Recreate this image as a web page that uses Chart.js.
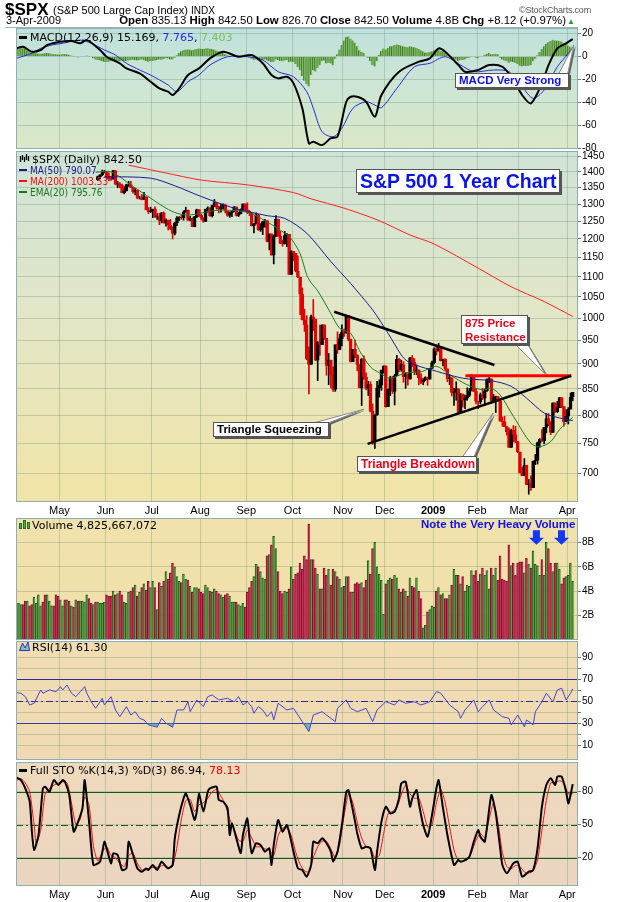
<!DOCTYPE html>
<html><head><meta charset="utf-8">
<script src="https://cdn.jsdelivr.net/npm/chart.js"></script>
<style>
html,body{margin:0;padding:0;background:#fff;width:620px;height:902px;overflow:hidden;position:relative;font-family:"Liberation Sans",Arial,sans-serif;}
canvas{position:absolute;left:0;}
.t{position:absolute;white-space:nowrap;line-height:13px;}
.lg{font-family:"DejaVu Sans",Verdana,sans-serif;font-size:11px;color:#000;}
.lgs{font-family:"DejaVu Sans Condensed","DejaVu Sans",sans-serif;font-size:10px;}
.mk{display:inline-block;width:8px;height:2px;vertical-align:middle;margin:0 3px 2px 1px;}
.box{position:absolute;background:#fff;border:1px solid #555;box-shadow:2px 2px 0 #555;font-weight:bold;font-family:"Liberation Sans",Arial,sans-serif;white-space:nowrap;box-sizing:border-box;}
</style></head><body>
<div id="charts"></div>

<!-- header -->
<div class="t" style="left:5px;top:1px;font-weight:bold;font-size:17px;line-height:18px;">$SPX</div>
<div class="t" style="left:53px;top:4px;font-size:11px;">(S&amp;P 500 Large Cap Index) <span style="font-size:10px">INDX</span></div>
<div class="t" style="left:519px;top:4px;font-size:9px;color:#555;letter-spacing:-0.2px;">&copy;StockCharts.com</div>
<div class="t" style="left:6px;top:14px;font-size:11px;">3-Apr-2009</div>
<div class="t" style="right:54px;top:14px;font-size:11.4px;"><b>Open</b> 835.13 <b>High</b> 842.50 <b>Low</b> 826.70 <b>Close</b> 842.50 <b>Volume</b> 4.8B <b>Chg</b> +8.12 (+0.97%)</div>
<div class="t" style="left:567px;top:15px;font-size:8px;color:#2a9a2a;">&#9650;</div>
<div style="position:absolute;left:5px;top:27px;width:573px;height:1px;background:#9ab4b8;"></div>

<!-- MACD legend -->
<div class="t lg" style="left:18px;top:31px;"><span class="mk" style="background:#000;height:3px"></span>MACD(12,26,9) 15.169, <span style="color:#2a2ad0">7.765</span>, <span style="color:#78c058">7.403</span></div>
<div class="box" style="left:455px;top:73px;width:114px;height:15px;color:#1010e8;font-size:11.5px;line-height:13px;padding-left:3px;">MACD Very Strong</div>

<!-- price legend -->
<div class="t lg" style="left:19px;top:153px;"><svg width="11" height="9" style="margin-right:2px"><path d="M1.5 2v6M3.5 1v5M5.5 3v5M7.5 0v6M9.5 2v5" stroke="#000" stroke-width="1.3"/></svg>$SPX (Daily) 842.50</div>
<div class="t lg lgs" style="left:18px;top:164px;color:#1a1a8a"><span class="mk" style="background:#1a1a8a"></span>MA(50) 790.07</div>
<div class="t lg lgs" style="left:18px;top:174.5px;color:#ee1111"><span class="mk" style="background:#ee1111"></span>MA(200) 1003.53</div>
<div class="t lg lgs" style="left:18px;top:186px;color:#187818"><span class="mk" style="background:#187818"></span>EMA(20) 795.76</div>

<div class="box" style="left:356px;top:169px;width:204px;height:24px;color:#0a14e6;font-size:19.5px;line-height:22px;padding-left:3px;">S&amp;P 500 1 Year Chart</div>
<div class="box" style="left:461px;top:315px;width:67px;height:29px;color:#e8001a;font-size:11.5px;line-height:13.5px;padding:1px 0 0 3px;">875 Price<br>Resistance</div>
<div class="box" style="left:213px;top:422px;width:116px;height:15px;color:#000;font-size:11.5px;line-height:13px;padding-left:3px;">Triangle Squeezing</div>
<div class="box" style="left:357px;top:456px;width:120px;height:16px;color:#e8001a;font-size:12px;line-height:14px;padding-left:3px;">Triangle Breakdown</div>

<!-- volume legend -->
<div class="t lg" style="left:19px;top:518.5px;"><svg width="11" height="10" style="margin-right:2px"><rect x="0.5" y="4.5" width="2" height="5" fill="#5aa548" stroke="#2c6a24"/><rect x="4.5" y="1.5" width="2" height="8" fill="#5aa548" stroke="#2c6a24"/><rect x="8.5" y="3.5" width="2" height="6" fill="#5aa548" stroke="#2c6a24"/></svg>Volume 4,825,667,072</div>
<div class="t" style="left:421px;top:518px;font-weight:bold;font-size:11.5px;color:#1010e8;">Note the Very Heavy Volume</div>

<!-- RSI legend -->
<div class="t lg" style="left:19px;top:641px;"><svg width="11" height="10" style="margin-right:2px"><path d="M0.5 9.5 L3.5 2 L6 7 L9 1 L10.5 9.5 Z" fill="#7ec0c0" stroke="#3030c0"/></svg>RSI(14) 61.30</div>

<!-- STO legend -->
<div class="t lg" style="left:18px;top:764px;"><span class="mk" style="background:#000;height:3px"></span>Full STO %K(14,3) %D(3) 86.94, <span style="color:#e00000">78.13</span></div>

<script>
// ---------------- categories / ticks ----------------
const monthIdx    = [20,41,62,84,105,126,149,168,190,210,229,251];   // first trading day of each month (day index)
const monthLabels = ['May','Jun','Jul','Aug','Sep','Oct','Nov','Dec','2009','Feb','Mar','Apr'];
const priceTicks  = [700,750,800,850,900,950,1000,1050,1100,1150,1200,1250,1300,1350,1400,1450];
const macdTicks   = [-80,-60,-40,-20,0,20];
const volTicks    = [2,4,6,8];
const rsiGrid     = [10,20,30,40,50,60,70,80,90];
const rsiLabels   = [10,30,50,70,90];
const stoTicks    = [20,50,80];
const rsiLevels   = [70,50,30];
const stoLevels   = [80,50,20];

// ---------------- daily price data (day index 0 = 3-Apr-2008) ----------------
const prevClose = 1368;
const closes = [
1369,1370,1373,1366,1354,1361,1333,1328,1334,1365,
1366,1390,1388,1376,1380,1389,1398,1396,1391,1386,
1409,1414,1407,1418,1393,1398,1388,1404,1403,1409,
1424,1425,1427,1413,1391,1394,1376,1385,1391,1398,
1400,1386,1378,1377,1404,1361,1362,1358,1335,1340,
1360,1360,1351,1338,1343,1318,1318,1314,1322,1283,
1278,1280,1285,1262,1263,1252,1274,1245,1253,1239,
1228,1215,1245,1260,1261,1260,1277,1282,1253,1258,
1234,1263,1284,1267,1260,1249,1285,1289,1266,1296,
1305,1290,1286,1293,1298,1279,1267,1275,1278,1292,
1267,1272,1282,1301,1283,1278,1275,1237,1242,1268,
1225,1232,1249,1252,1193,1214,1156,1207,1255,1207,
1188,1186,1209,1213,1106,1166,1161,1114,1099,1057,
996,985,910,899,1003,998,908,946,941,985,
955,897,908,877,849,941,930,954,969,966,
1006,953,905,931,919,899,852,911,873,851,
859,807,752,800,852,857,888,896,816,849,
871,845,876,910,889,899,874,880,869,913,
904,885,888,872,863,868,873,869,891,903,
932,927,935,907,910,890,870,872,843,844,
850,805,840,828,832,837,846,874,845,826,
825,839,832,846,869,870,827,834,835,827,
789,788,779,770,743,773,765,753,735,701,
696,713,682,683,677,720,721,751,757,754,
778,794,784,769,823,806,814,833,816,788,
798,811,834,843];
const firstCandle = 37; // earlier candles sit under the legend
const opens = [
1375,1385,1391,1398,
1400,1386,1378,1377,1404,1361,1362,1358,1335,1340,
1360,1360,1351,1338,1343,1318,1318,1314,1322,1283,
1278,1280,1285,1262,1263,1252,1274,1245,1253,1239,
1228,1215,1245,1260,1261,1260,1277,1282,1253,1258,
1234,1263,1284,1267,1260,1249,1285,1289,1266,1296,
1305,1290,1286,1293,1298,1279,1267,1275,1278,1292,
1267,1272,1282,1301,1283,1278,1275,1237,1242,1268,
1225,1232,1249,1252,1193,1214,1156,1207,1255,1207,
1188,1186,1209,1213,1106,1166,1161,1114,1099,1057,
996,985,910,899,1003,998,908,946,941,985,
955,897,908,877,849,941,930,954,969,966,
1006,953,905,931,919,899,852,911,873,851,
859,807,752,800,852,857,888,896,816,849,
871,845,876,910,889,899,874,880,869,913,
904,885,888,872,863,868,873,869,891,903,
932,927,935,907,910,890,870,872,843,844,
850,805,840,828,832,837,846,874,845,826,
825,839,832,846,869,870,827,834,835,827,
789,788,779,770,743,773,765,753,735,701,
696,713,682,683,677,720,721,751,757,754,
778,794,784,769,823,806,814,833,816,788,
798,811,835];
const highs = [
1387,1391,1406,1405,
1400,1397,1386,1405,1404,1370,1366,1361,1353,1361,
1370,1370,1351,1348,1343,1324,1329,1336,1322,1290,
1291,1285,1292,1272,1273,1275,1277,1257,1253,1255,
1234,1246,1263,1263,1267,1280,1291,1282,1264,1260,
1264,1285,1284,1270,1260,1285,1292,1289,1297,1314,
1305,1294,1300,1301,1300,1280,1277,1280,1293,1292,
1276,1286,1301,1301,1304,1281,1275,1244,1274,1270,
1243,1250,1255,1252,1214,1214,1211,1266,1256,1221,
1197,1221,1215,1213,1168,1166,1161,1154,1099,1072,
1021,1006,936,1007,1044,998,948,984,985,985,
955,922,908,894,940,969,964,985,975,1007,
1006,953,931,951,919,899,911,917,882,865,
864,821,801,865,868,887,896,896,850,875,
875,879,918,912,908,905,882,880,914,918,
911,898,888,880,870,874,873,891,906,934,
937,944,935,910,911,890,878,872,851,864,
850,841,840,838,852,851,878,874,851,826,
842,851,850,870,877,870,839,836,835,827,
797,798,780,777,775,781,780,753,735,710,
724,713,690,696,720,731,752,758,774,778,
803,803,788,823,823,826,833,833,816,810,
814,842,843];
const lows = [
1373,1378,1388,1397,
1377,1371,1373,1377,1359,1350,1350,1334,1331,1340,
1354,1350,1333,1328,1316,1315,1313,1314,1283,1272,
1275,1260,1261,1255,1240,1245,1244,1236,1225,1226,
1200,1211,1237,1252,1255,1253,1276,1252,1251,1234,
1234,1260,1264,1254,1247,1249,1276,1264,1262,1293,
1285,1274,1276,1285,1274,1264,1261,1263,1278,1265,
1263,1271,1282,1280,1272,1266,1236,1217,1242,1224,
1221,1212,1233,1192,1170,1156,1133,1207,1207,1187,
1180,1186,1179,1106,1106,1141,1112,1098,1008,996,
970,909,840,899,972,907,866,918,941,952,
877,858,852,845,845,922,930,938,959,966,
949,904,905,913,886,852,818,869,848,837,
806,748,741,800,834,847,881,815,816,837,
841,819,876,884,885,863,851,857,869,895,
878,878,858,860,858,866,857,869,891,900,
919,927,906,896,887,864,858,836,818,828,
804,804,815,812,828,835,846,845,821,812,
821,829,818,845,862,822,823,805,826,789,
780,779,764,743,743,752,751,734,700,696,
696,682,667,673,677,714,715,743,753,749,
768,781,765,769,805,805,814,814,780,788,
784,811,827];

// moving averages [day index, value]
const ma200 = [[51,1422],[67,1398],[84,1374],[105,1359],[126,1335],[134,1316],[149,1288],[164,1254],[179,1211],[190,1186],[210,1122],[225,1075],[240,1039],[253,1004]];
const ma50  = [[40,1385],[61,1380],[72,1356],[84,1323],[99,1288],[114,1266],[122,1258],[132,1216],[143,1139],[152,1083],[162,1019],[169,966],[175,919],[178,905],[184,894],[188,889],[203,871],[216,866],[225,855],[232,832],[240,804],[247,795],[253,790]];
const ema20 = [[36,1399],[43,1400],[53,1354],[61,1318],[68,1288],[73,1273],[79,1268],[90,1281],[99,1281],[106,1274],[114,1248],[122,1216],[125,1200],[129,1160],[132,1105],[134,1085],[137,1065],[143,1011],[147,977],[152,966],[156,928],[161,894],[165,882],[170,871],[177,882],[184,884],[191,895],[197,878],[205,858],[212,848],[216,851],[220,838],[226,798],[234,750],[238,744],[243,753],[247,774],[253,796]];

// annotation lines [day index, price]
const triUpper = [[144.5,1015],[217.4,898]];
const triLower = [[159.7,749],[252.3,876]];
const resistance = [[204.2,876],[252.4,876]];

// ---------------- volume (billions) ----------------
const volume = [
3.0,3.0,2.9,2.9,3.2,3.2,2.8,2.9,3.5,3.0,
3.7,2.8,3.1,3.7,3.7,3.2,2.8,2.8,3.7,3.6,
3.3,2.8,3.3,3.3,3.2,2.8,2.7,3.3,3.2,3.2,
3.2,3.1,3.7,3.4,3.0,2.9,3.1,3.1,3.0,3.0,
3.1,3.7,3.6,3.6,4.0,3.7,3.8,4.0,3.7,3.1,
3.0,3.9,4.0,4.3,4.5,3.6,3.9,4.3,4.6,4.1,
4.8,4.3,4.8,4.3,2.5,4.7,4.4,4.8,5.6,5.0,
5.5,6.3,6.0,5.2,4.8,4.7,5.4,5.0,4.9,4.4,
3.9,4.3,4.3,4.2,3.9,3.8,4.5,4.3,4.0,3.9,
4.2,4.0,3.8,3.7,3.5,3.7,3.8,3.6,3.1,3.1,
3.1,2.9,2.8,3.0,2.7,3.9,4.3,4.8,5.2,6.2,
6.0,5.6,5.1,5.0,6.9,7.0,7.8,8.5,7.5,5.6,
4.0,3.8,4.0,3.9,4.2,6.0,5.0,5.4,5.5,6.3,
5.8,6.9,6.6,9.5,6.6,6.6,5.9,5.4,4.2,4.2,
5.9,5.3,5.8,4.5,5.8,5.6,5.2,5.0,4.3,4.4,
5.2,5.2,3.9,3.9,4.6,4.7,4.6,4.7,4.3,4.9,
6.5,5.4,7.5,8.0,6.0,5.4,4.9,2.1,4.6,4.9,
5.1,5.0,5.3,5.1,4.2,3.9,4.2,4.0,3.6,5.1,
4.4,4.3,5.1,4.0,3.4,1.0,1.2,2.3,2.5,2.8,
2.7,4.0,4.3,3.7,3.8,3.4,3.4,3.7,4.5,5.8,
5.3,5.3,4.6,5.2,4.0,4.5,4.4,5.7,5.3,5.7,
4.8,5.4,5.9,5.3,5.7,4.2,5.9,5.3,5.9,4.9,
6.9,5.0,4.9,4.8,7.8,6.1,6.3,5.3,6.3,6.4,
6.4,5.5,6.7,6.2,5.9,7.3,6.2,6.1,5.3,6.6,
5.3,8.0,7.5,6.3,5.6,6.3,6.3,5.8,4.6,5.1,
5.2,5.3,6.3,4.8];
const volArrows = [[236.5,9.0,7.8],[247.9,9.0,7.8]]; // [day, top, tip] in billions

// ---------------- MACD ----------------
const macdLine = [[0,7.1],[3,8.5],[7,4.2],[11,5.7],[14,10],[20,12.9],[25,13.5],[29,11.5],[32,14.3],[38,5.7],[41,-0.2],[47,-5.9],[50,-10.3],[56,-14.6],[61,-21.9],[65,-27.7],[69,-30.6],[71,-33.5],[74,-27.7],[78,-16.1],[83,-10.3],[88,-1.6],[94,4.2],[101,-0.2],[107,1.3],[112,-5.9],[116,-16.1],[119,-19],[123,-17.6],[126,-23.3],[130,-45],[133,-75.5],[135,-74],[139,-77],[143,-71],[146,-69.7],[150,-39.3],[152,-35],[155,-35],[159,-39.3],[163,-52.3],[166,-33.5],[174,-13.2],[183,-4.5],[188,-1.6],[192,7.1],[195,4.2],[201,-7.4],[204,-13.2],[210,-11.7],[215,-7.4],[221,-8.9],[226,-20.4],[230,-33.5],[234,-40.7],[239,-23.3],[242,-7.4],[246,7.1],[250,11.5],[253,15.2]];
const macdSignal = [[0,-1.6],[7,2.8],[11,7.1],[16,10],[21,11.5],[29,14.3],[34,11.5],[40,5.7],[45,1.3],[50,-5.9],[56,-11.7],[61,-16.1],[69,-24.8],[73,-30.6],[78,-21.9],[83,-16.1],[88,-7.4],[96,-0.2],[105,-0.2],[112,-3],[119,-13.2],[126,-17.6],[132,-30.6],[135,-45],[139,-65.4],[144,-69.7],[148,-62.4],[153,-45],[159,-39.3],[163,-42.2],[166,-44.5],[173,-27.7],[181,-8.9],[188,-5.9],[195,-0.2],[202,-7.4],[208,-13.2],[217,-11.7],[224,-13.2],[230,-26.3],[235,-36.3],[240,-29.1],[246,-8.9],[251,2.8],[253,7.8]];
const macdHist = [
8.7,8.5,8.0,7.2,6.5,5.5,4.5,3.5,3.0,2.8,
2.6,2.5,2.6,2.8,3.0,2.8,2.5,2.3,2.0,1.8,
1.8,2.0,2.2,2.0,1.5,0.8,0.2,-0.5,-0.8,-0.5,
0.0,0.5,0.8,0.3,-0.5,-1.5,-2.5,-3.0,-3.5,-4.0,
-4.5,-4.8,-4.5,-4.0,-4.2,-4.8,-4.5,-4.0,-3.5,-3.8,
-4.0,-3.5,-3.0,-2.8,-3.2,-3.5,-3.0,-2.5,-3.2,-4.0,
-4.5,-4.2,-3.8,-3.5,-3.0,-2.5,-2.8,-2.2,-1.5,-1.8,
-2.5,-2.5,-1.0,1.0,3.0,4.5,5.5,6.0,6.2,6.0,
5.5,6.0,6.5,7.0,6.8,6.5,7.0,7.2,6.8,6.5,
6.0,5.2,4.5,3.8,3.0,2.0,1.2,0.5,0.2,0.5,
0.8,0.5,0.0,0.5,0.5,0.0,-0.8,-2.0,-2.8,-2.5,
-3.2,-3.5,-3.0,-2.5,-3.5,-4.0,-5.0,-4.5,-2.5,-3.0,
-3.8,-4.2,-3.5,-3.0,-5.0,-4.5,-4.8,-6.5,-9.0,-12.0,
-17.0,-21.0,-24.0,-26.0,-16.0,-12.0,-13.0,-10.0,-7.5,-4.0,
-3.5,-6.0,-5.5,-6.0,-7.5,-2.0,2.0,6.0,10.0,14.0,
17.0,17.5,15.5,14.0,12.0,9.0,5.5,4.0,3.0,0.5,
-1.0,-4.0,-7.5,-8.7,-4.0,1.5,5.0,7.0,6.0,7.5,
9.0,9.0,10.0,10.5,10.0,9.5,9.0,8.5,8.0,9.0,
8.5,8.0,7.5,6.5,5.5,4.5,3.5,3.5,4.0,4.5,
5.5,6.0,6.5,5.0,4.5,3.0,1.5,0.0,-2.0,-3.0,
-2.5,-4.0,-3.0,-3.0,-2.5,-1.5,-1.0,0.5,0.0,-1.0,
-1.5,-0.5,0.5,1.5,2.5,3.0,2.0,2.0,2.5,2.0,
-1.0,-2.5,-3.5,-4.0,-5.5,-4.5,-5.0,-5.5,-6.5,-8.0,
-8.7,-8.0,-8.5,-8.0,-7.5,-4.0,-2.0,1.0,4.0,6.5,
9.0,11.0,12.5,13.5,14.5,14.0,14.0,13.5,13.0,12.0,
11.0,9.5,8.5,7.4];

// ---------------- RSI(14) ----------------
const rsi = [[0,57.8],[2,57.3],[4,54.2],[6,46.6],[8,48.2],[11,60.3],[12,57.3],[15,60.3],[18,58.7],[20,63.3],[21,60.3],[23,64.8],[25,57.3],[27,54.2],[29,58.7],[31,63.3],[32,57.3],[34,49.6],[36,43.6],[39,52.7],[40,46.6],[43,54.2],[45,42.1],[47,36],[50,45.1],[52,37.5],[54,40.5],[56,34.5],[58,33],[60,28.5],[62,27.5],[64,26.4],[66,34.5],[68,30],[71,26.4],[73,42.1],[76,42.1],[78,49.6],[79,40.5],[82,51.2],[85,45.1],[87,54.2],[89,55.7],[92,51.2],[96,52.7],[99,49.6],[101,54.2],[103,46.6],[105,49.6],[107,45.1],[108,39.1],[110,45.1],[112,42.1],[114,36],[116,40.5],[117,33],[119,48.2],[123,42.1],[126,43.6],[130,31.5],[133,22.4],[135,37.5],[139,40.5],[143,34.5],[145,31.5],[146,43.6],[150,51.2],[152,43.6],[155,40.5],[159,43.6],[162,31.5],[164,42.1],[168,49.6],[172,46.6],[174,51.2],[177,48.2],[181,49.6],[184,46.6],[188,49.6],[191,58.7],[193,57.3],[197,46.6],[201,40.5],[202,34.5],[204,42.1],[208,51.2],[210,40.5],[212,45.1],[215,51.2],[217,42.1],[221,36],[224,34.5],[225,28.5],[228,37.5],[231,26.9],[232,33],[235,28.5],[236,40.5],[239,49.6],[241,57.3],[244,49.6],[246,60.3],[248,61.8],[250,51.2],[252,57.3],[253,61.3]];

// ---------------- Full Stochastics ----------------
const stoK = [[0,92.8],[2,90.6],[4,83.1],[6,71],[7,43.7],[8,27],[10,40.6],[12,83.1],[13,84.6],[15,80],[17,90.6],[19,86.1],[21,90.6],[22,89.1],[24,77],[26,43.7],[28,52.8],[30,64.9],[31,90.6],[33,52.8],[35,13.4],[38,16.4],[40,34.6],[41,28.5],[43,14.9],[44,24],[46,22.5],[48,8.8],[50,10.3],[51,34.6],[53,22.5],[55,10.3],[57,7.3],[59,10.3],[60,8.8],[62,13.4],[64,8.8],[66,16.4],[68,11.9],[69,10.3],[71,13.4],[72,37.6],[74,58.8],[76,74],[77,78.5],[79,67.9],[81,54.3],[82,61.9],[83,78.5],[85,61.9],[87,80],[88,83.1],[91,84.6],[92,72.5],[94,71],[96,64.9],[97,40.6],[98,51.2],[100,37.6],[102,24],[103,40.6],[105,55.8],[106,37.6],[107,24],[109,33.1],[111,31.5],[113,25.5],[115,28.5],[116,13.4],[117,31.5],[119,54.3],[121,43.7],[123,49.7],[125,34.6],[126,25.5],[128,10.3],[130,8.8],[132,2.8],[134,13.4],[135,34.6],[137,33.1],[139,37.6],[141,33.1],[143,25.5],[144,16.4],[146,25.5],[148,49.7],[150,80],[151,81.5],[154,52.8],[155,42.1],[157,28.5],[159,30],[161,28.5],[163,8.8],[164,25.5],[166,52.8],[168,66.4],[170,60.3],[172,61.9],[174,74],[175,87.6],[177,89.1],[179,66.4],[180,74],[182,81.5],[183,69.4],[185,49.7],[187,39.1],[189,58.8],[191,83.1],[192,90.6],[194,64.9],[196,40.6],[199,13.4],[201,17.9],[202,16.4],[204,17.9],[206,20.9],[208,34.6],[210,45.2],[211,39.1],[213,34.6],[216,77],[218,60.3],[220,28.5],[221,13.4],[223,5.8],[226,14.9],[228,16.4],[230,2.8],[233,7.3],[235,8.8],[237,28.5],[239,66.4],[241,86.1],[243,92.2],[245,86.1],[246,93.7],[248,93.7],[250,80],[251,69.4],[252,77],[253,86.9]];
const stoD = [[0,90],[2,92],[4,88],[6,80],[8,50],[9,33],[11,45],[13,78],[15,83],[17,86],[19,88],[21,89],[23,88],[25,70],[27,50],[29,55],[31,75],[33,68],[35,30],[37,17],[39,25],[41,30],[43,22],[45,20],[47,15],[49,12],[51,22],[53,24],[55,15],[57,9],[59,9],[61,11],[63,11],[65,12],[67,13],[69,11],[71,12],[73,30],[75,55],[77,72],[79,73],[81,62],[83,68],[85,70],[87,74],[89,80],[91,82],[93,76],[95,68],[97,55],[99,46],[101,36],[103,35],[105,45],[107,38],[109,30],[111,30],[113,28],[115,27],[117,22],[119,40],[121,47],[123,47],[125,40],[127,25],[129,14],[131,8],[133,7],[135,20],[137,30],[139,35],[141,35],[143,28],[145,20],[147,32],[149,58],[151,78],[153,70],[155,52],[157,38],[159,30],[161,29],[163,20],[165,22],[167,42],[169,60],[171,62],[173,66],[175,77],[177,86],[179,78],[181,74],[183,74],[185,62],[187,48],[189,50],[191,70],[193,82],[195,70],[197,48],[199,27],[201,17],[203,17],[205,18],[207,25],[209,36],[211,42],[213,38],[215,55],[217,70],[219,52],[221,25],[223,12],[225,10],[227,13],[229,12],[231,7],[233,6],[235,8],[237,18],[239,45],[241,72],[243,88],[245,88],[247,90],[249,88],[251,78],[253,78.1]];

// ---------------- rendering ----------------
const X_MIN = -0.23, X_MAX = 255.4;
const GRID = 'rgba(110,145,115,0.33)';
const FONT = '"Liberation Sans", Arial, sans-serif';
const pts = a => a.map(([x, y]) => ({x, y}));
const isDown = i => closes[i] < (i > 0 ? closes[i - 1] : prevClose);

const decor = {
  id: 'decor',
  beforeDraw(chart, args, o) {
    if (!o.bg) return;
    const {ctx, chartArea: a} = chart;
    const g = ctx.createLinearGradient(0, a.top, 0, a.bottom);
    o.bg.forEach((c, k) => g.addColorStop(k / (o.bg.length - 1), c));
    ctx.save(); ctx.fillStyle = g; ctx.fillRect(a.left, a.top, a.right - a.left, a.bottom - a.top); ctx.restore();
  },
  beforeDatasetsDraw(chart, args, o) {
    if (!o.levels) return;
    const {ctx, chartArea: a, scales} = chart;
    o.levels.forEach(v => {
      const y = Math.round(scales.y.getPixelForValue(v)) + 0.5;
      ctx.save(); ctx.strokeStyle = o.levelColor; ctx.lineWidth = 1.2;
      ctx.setLineDash(v === 50 ? [7, 3, 2, 3] : []);
      ctx.beginPath(); ctx.moveTo(a.left, y); ctx.lineTo(a.right, y); ctx.stroke(); ctx.restore();
    });
  },
  afterDraw(chart, args, o) {
    if (!o.bg) return;
    const {ctx, chartArea: a, scales} = chart;
    (o.callouts || []).forEach(c => {
      const tx = scales.x.getPixelForValue(c.tip[0]), ty = scales.y.getPixelForValue(c.tip[1]);
      const b = c.base.map(p => [p[0], p[1] - o.top]);
      ctx.save();
      ctx.fillStyle = '#666';
      ctx.beginPath(); ctx.moveTo(b[0][0] + 2, b[0][1] + 2); ctx.lineTo(tx + 2, ty + 1); ctx.lineTo(b[1][0] + 2, b[1][1] + 2); ctx.closePath(); ctx.fill();
      ctx.fillStyle = '#fff'; ctx.strokeStyle = '#888'; ctx.lineWidth = 1;
      ctx.beginPath(); ctx.moveTo(b[0][0], b[0][1]); ctx.lineTo(tx, ty); ctx.lineTo(b[1][0], b[1][1]); ctx.closePath(); ctx.fill(); ctx.stroke();
      ctx.restore();
    });
    (o.arrows || []).forEach(([d, top, tip]) => {
      const x = scales.x.getPixelForValue(d), y0 = scales.y.getPixelForValue(top), y1 = scales.y.getPixelForValue(tip);
      const hy = y1 - 7;
      ctx.save(); ctx.fillStyle = '#1438ff';
      ctx.beginPath();
      ctx.moveTo(x - 3.5, y0); ctx.lineTo(x + 3.5, y0); ctx.lineTo(x + 3.5, hy); ctx.lineTo(x + 7.5, hy);
      ctx.lineTo(x, y1); ctx.lineTo(x - 7.5, hy); ctx.lineTo(x - 3.5, hy); ctx.closePath(); ctx.fill();
      ctx.restore();
    });
    ctx.save(); ctx.strokeStyle = '#8eaeb2'; ctx.lineWidth = 1;
    ctx.strokeRect(a.left + 0.5, a.top + 0.5, a.right - a.left - 1, a.bottom - a.top - 1);
    ctx.restore();
  }
};
Chart.register(decor);

function xAxis(showLabels) {
  return {
    type: 'linear', min: X_MIN, max: X_MAX, offset: false,
    afterBuildTicks: s => { s.ticks = monthIdx.map(v => ({value: v - 0.5})); },
    ticks: { display: showLabels, autoSkip: false, maxRotation: 0, padding: 2, color: '#000',
      font: c => ({family: FONT, size: 11, weight: monthLabels[c.index] === '2009' ? 'bold' : 'normal'}),
      callback: (v, i) => monthLabels[i] },
    grid: { color: GRID, drawTicks: false, offset: false, lineWidth: 1 },
    border: { display: false },
    afterFit: s => { s.height = showLabels ? 16 : 0; }
  };
}
function yAxis(type, min, max, tickVals, fmt) {
  return {
    type, position: 'right', min, max,
    afterBuildTicks: s => { s.ticks = tickVals.map(v => ({value: v})); },
    ticks: { autoSkip: false, padding: 1, color: '#000', font: {family: FONT, size: 10}, callback: v => fmt(v) },
    grid: { color: GRID, drawTicks: true, tickLength: 3, tickColor: '#6a7a80', lineWidth: 1 },
    border: { display: false },
    afterFit: s => { s.width = 42; }
  };
}
function options(p) {
  return {
    responsive: false, animation: false, devicePixelRatio: 1, events: [],
    layout: { padding: { left: 16, right: 0, top: p.padTop, bottom: p.padBottom } },
    plugins: { legend: {display: false}, tooltip: {enabled: false},
      decor: { bg: p.bg, levels: p.levels, levelColor: p.levelColor, callouts: p.callouts, arrows: p.arrows, top: p.top } },
    scales: { x: xAxis(p.xLabels), y: p.y }
  };
}
function canvas(top, h) {
  const c = document.createElement('canvas');
  c.width = 620; c.height = h; c.style.top = top + 'px'; c.style.width = '620px'; c.style.height = h + 'px';
  document.getElementById('charts').appendChild(c);
  return c;
}
const line = (data, color, w, tension, order) => ({type: 'line', data: pts(data), borderColor: color, borderWidth: w, pointRadius: 0, tension, order, fill: false});

// MACD panel (plot 28..149)
new Chart(canvas(18, 139), {
  type: 'bar',
  data: { datasets: [
    { type: 'bar', data: macdHist.map((v, i) => ({x: i, y: v})), backgroundColor: '#7fb860', borderColor: '#3e7a2a',
      borderWidth: {left: 1, right: 0, top: 0, bottom: 0}, borderSkipped: false, barThickness: 2.2, grouped: false, order: 5 },
    line(macdSignal, '#2b2bd6', 1, 0.3, 2),
    line(macdLine, '#000', 2, 0.3, 1)
  ]},
  options: options({ padTop: 10, padBottom: 8, top: 18, xLabels: false,
    bg: ['#bfe1dc', '#cde5d3', '#dbe8c6'],
    y: yAxis('linear', -80.4, 24.8, macdTicks, v => String(v)),
    callouts: [{ base: [[557, 77], [567, 77]], tip: [253.5, 10] }] })
});

// Price panel (plot 151..502)
const cIdx = closes.map((c, i) => i).filter(i => i >= firstCandle);
const oh = i => opens[i - firstCandle], hh = i => highs[i - firstCandle], lh = i => lows[i - firstCandle];
const candleColor = i => isDown(i) ? '#e00000' : '#000';
new Chart(canvas(141, 377), {
  type: 'bar',
  data: { datasets: [
    { type: 'bar', data: cIdx.map(i => ({x: i, y: [lh(i), hh(i)]})), backgroundColor: c => candleColor(c.raw.x),
      barThickness: 1, grouped: false, order: 6 },
    { type: 'bar', data: cIdx.map(i => ({x: i, y: [oh(i), closes[i]]})),
      backgroundColor: c => closes[c.raw.x] < oh(c.raw.x) ? candleColor(c.raw.x) : 'rgba(0,0,0,0)',
      borderColor: c => candleColor(c.raw.x), borderWidth: 1, borderSkipped: false, barThickness: 3, grouped: false, order: 5 },
    line(ma200, '#ff2020', 1, 0.3, 4),
    line(ma50, '#1c1c94', 1, 0.3, 3),
    line(ema20, '#1c801c', 1, 0.3, 3),
    line(triUpper, '#000', 2.5, 0, 1),
    line(triLower, '#000', 2.5, 0, 1),
    line(resistance, '#ff0000', 3, 0, 1)
  ]},
  options: options({ padTop: 10, padBottom: 0, top: 141, xLabels: true,
    bg: ['#cfe3d7', '#e3e6c5', '#f1e4a6'],
    y: yAxis('logarithmic', 655.2, 1469, priceTicks, v => String(v)),
    callouts: [
      { base: [[306, 425], [323, 425]], tip: [158, 811] },
      { base: [[461, 459], [473, 459]], tip: [216.8, 804] },
      { base: [[511, 340], [525, 340]], tip: [240.6, 879] }
    ] })
});

// Volume panel (plot 518..640)
new Chart(canvas(510, 138), {
  type: 'bar',
  data: { datasets: [
    { type: 'bar', data: volume.map((v, i) => ({x: i, y: v})),
      backgroundColor: c => isDown(c.raw.x) ? '#cc2f52' : '#56a044',
      borderColor: c => isDown(c.raw.x) ? '#7a1030' : '#245a1c',
      borderWidth: {left: 1, right: 0, top: 1, bottom: 0}, borderSkipped: false, barThickness: 2.2, grouped: false }
  ]},
  options: options({ padTop: 8, padBottom: 8, top: 510, xLabels: false,
    bg: ['#f1e2ad', '#f0dfa8'],
    y: yAxis('linear', 0, 10, volTicks, v => v + 'B'),
    arrows: volArrows })
});

// RSI panel (plot 641..760)
new Chart(canvas(633, 135), {
  type: 'line',
  data: { datasets: [
    { type: 'line', data: pts(rsi), borderColor: '#4646d2', borderWidth: 1, pointRadius: 0, tension: 0,
      fill: { target: {value: 30}, above: 'rgba(0,0,0,0)', below: 'rgba(88,172,176,0.85)' } }
  ]},
  options: options({ padTop: 8, padBottom: 8, top: 633, xLabels: false,
    bg: ['#f1ddb2', '#efd9b2'],
    levels: rsiLevels, levelColor: '#2a2aa0',
    y: yAxis('linear', -3.4, 104.8, rsiGrid, v => rsiLabels.includes(v) ? String(v) : '') })
});

// Full STO panel (plot 762..886)
new Chart(canvas(754, 148), {
  type: 'line',
  data: { datasets: [
    line(stoD, '#ee1010', 1, 0.2, 2),
    line(stoK, '#000', 2, 0.2, 1)
  ]},
  options: options({ padTop: 8, padBottom: 0, top: 754, xLabels: true,
    bg: ['#eed9bb', '#ecd5c1'],
    levels: stoLevels, levelColor: '#0b5e1e',
    y: yAxis('linear', -5.7, 107, stoTicks, v => String(v)) })
});
</script>
</body></html>
